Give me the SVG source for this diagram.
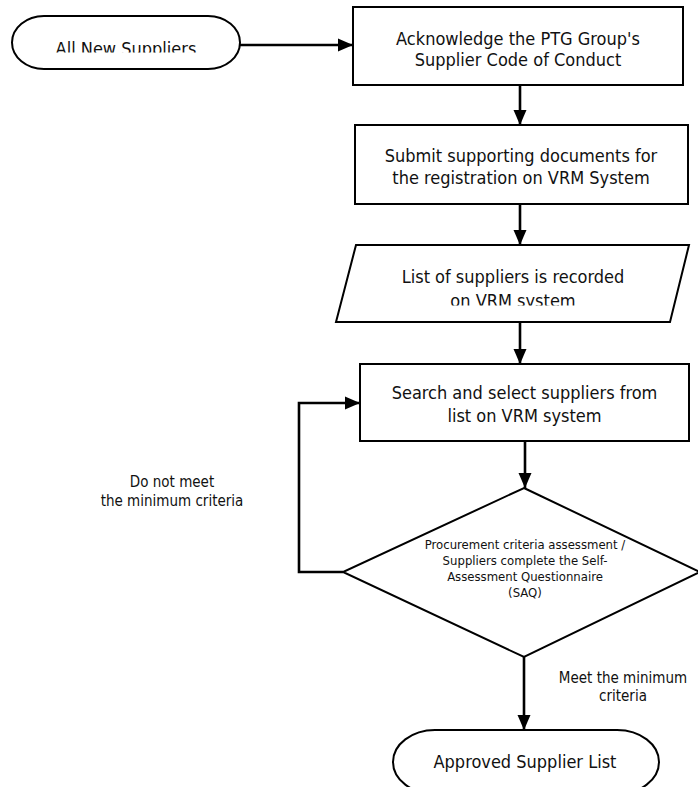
<svg xmlns="http://www.w3.org/2000/svg" width="698" height="787" viewBox="0 0 698 787">
<style>
.shape{fill:#fff;stroke:#000;stroke-width:2}
.conn{fill:none;stroke:#000;stroke-width:2.6}
text{font-family:"DejaVu Sans Condensed","DejaVu Sans","Liberation Sans",sans-serif;font-stretch:condensed;fill:#111;text-anchor:middle}
.t18{font-size:18px}
.t15{font-size:15px}
.t13{font-size:13px}
</style>
<defs>
<marker id="ah" markerUnits="userSpaceOnUse" markerWidth="16" markerHeight="14" refX="15" refY="7" orient="auto">
<polygon points="0,0.5 15,7 0,13.5" fill="#000"/>
</marker>
<clipPath id="clipA"><rect x="0" y="0" width="698" height="52.5"/></clipPath>
<clipPath id="clipB"><rect x="0" y="250" width="698" height="55.5"/></clipPath>
</defs>
<rect width="698" height="787" fill="#fff"/>
<g id="connectors">
<path class="conn" d="M240,45 H353" marker-end="url(#ah)"/>
<path class="conn" d="M520,85 V125" marker-end="url(#ah)"/>
<path class="conn" d="M520,204 V245" marker-end="url(#ah)"/>
<path class="conn" d="M520,322 V364" marker-end="url(#ah)"/>
<path class="conn" d="M525,441 V488" marker-end="url(#ah)"/>
<path class="conn" d="M343,572 H299 V403 H360" marker-end="url(#ah)"/>
<path class="conn" d="M524,657 V730" marker-end="url(#ah)"/>
</g>
<g id="start">
<rect class="shape" x="12" y="16" width="228" height="53" rx="32" ry="26.5"/>
<text class="t18" x="126" y="55" clip-path="url(#clipA)">All New Suppliers</text>
</g>
<g id="acknowledge">
<rect class="shape" x="353" y="7" width="330" height="78"/>
<text class="t18" x="518" y="45">Acknowledge the PTG Group's</text>
<text class="t18" x="518" y="66">Supplier Code of Conduct</text>
</g>
<g id="submit">
<rect class="shape" x="355" y="125" width="333" height="79"/>
<text class="t18" x="521" y="162">Submit supporting documents for</text>
<text class="t18" x="521" y="184">the registration on VRM System</text>
</g>
<g id="recorded">
<polygon class="shape" points="356,245 689,245 670,322 336,322"/>
<text class="t18" x="513" y="283">List of suppliers is recorded</text>
<text class="t18" x="513" y="307" clip-path="url(#clipB)">on VRM system</text>
</g>
<g id="search">
<rect class="shape" x="360" y="364" width="329" height="77"/>
<text class="t18" x="524.5" y="399">Search and select suppliers from</text>
<text class="t18" x="524.5" y="422">list on VRM system</text>
</g>
<g id="assessment">
<polygon class="shape" points="524,488 700,572 524,657 343,572"/>
<text class="t13" x="525" y="549">Procurement criteria assessment /</text>
<text class="t13" x="525" y="565">Suppliers complete the Self-</text>
<text class="t13" x="525" y="581">Assessment Questionnaire</text>
<text class="t13" x="525" y="597">(SAQ)</text>
</g>
<g id="label-fail">
<text class="t15" x="172" y="487">Do not meet</text>
<text class="t15" x="172" y="506">the minimum criteria</text>
</g>
<g id="label-pass">
<text class="t15" x="623" y="683">Meet the minimum</text>
<text class="t15" x="623" y="701">criteria</text>
</g>
<g id="approved">
<rect class="shape" x="393" y="730" width="266" height="64" rx="42" ry="32"/>
<text class="t18" x="525" y="768">Approved Supplier List</text>
</g>
</svg>
